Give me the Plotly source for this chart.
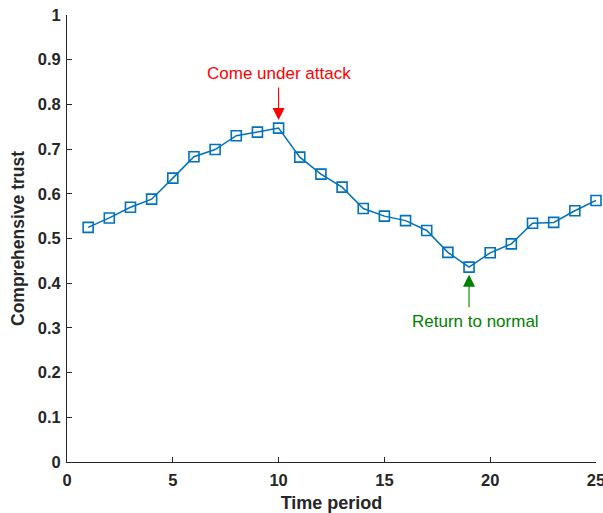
import plotly.graph_objects as go

time_period = list(range(1, 26))
trust = [0.525, 0.546, 0.570, 0.588, 0.635, 0.683, 0.699, 0.730, 0.738, 0.747,
         0.682, 0.644, 0.615, 0.567, 0.550, 0.540, 0.518, 0.469, 0.436, 0.468,
         0.488, 0.534, 0.536, 0.562, 0.585]
x_ticks = [0, 5, 10, 15, 20, 25]
y_ticks = [0, 0.1, 0.2, 0.3, 0.4, 0.5, 0.6, 0.7, 0.8, 0.9, 1]
attack_label = "Come under attack"
normal_label = "Return to normal"
attack_idx = 9
normal_idx = 18

FONT = "Liberation Sans, Arial"

fig = go.Figure()
fig.add_trace(go.Scatter(
    x=time_period, y=trust, mode="lines+markers",
    line=dict(color="#0072BD", width=1.5),
    marker=dict(symbol="square-open", size=10, color="#0072BD", line=dict(width=1.6)),
    showlegend=False, cliponaxis=False,
))

axis_common = dict(
    showline=True, linecolor="#262626", linewidth=1,
    ticks="inside", ticklen=5, tickcolor="#262626",
    showgrid=False, zeroline=False, mirror=False, automargin=False,
    ticklabeloverflow="allow",
    tickfont=dict(family=FONT, size=16.5, color="#262626", weight="bold"),
)

fig.update_xaxes(range=[0, 25], tickvals=x_ticks, ticktext=[str(v) for v in x_ticks],
                 ticklabelstandoff=3,
                 title=dict(text="<b>Time period</b>", standoff=10,
                            font=dict(family=FONT, size=18, color="#262626")),
                 **axis_common)
fig.update_yaxes(range=[0, 1], tickvals=y_ticks, ticktext=[("%g" % v) for v in y_ticks],
                 ticklabelstandoff=2,
                 title=dict(text="<b>Comprehensive trust</b>", standoff=8,
                            font=dict(family=FONT, size=17.5, color="#262626")),
                 **axis_common)

# arrows
fig.add_annotation(x=time_period[attack_idx], y=trust[attack_idx] + 0.018, xref="x", yref="y",
                   ax=0, ay=-34, showarrow=True, arrowhead=2, arrowsize=2.2, arrowwidth=1.1,
                   arrowcolor="#FF0000", text="")
fig.add_annotation(x=time_period[attack_idx], y=trust[attack_idx] + 0.097, xref="x", yref="y",
                   yanchor="bottom", showarrow=False, text=attack_label,
                   font=dict(family=FONT, size=17, color="#FF0000"))
fig.add_annotation(x=time_period[normal_idx], y=trust[normal_idx] - 0.017, xref="x", yref="y",
                   ax=0, ay=34, showarrow=True, arrowhead=2, arrowsize=2.2, arrowwidth=1.1,
                   arrowcolor="#008000", text="")
fig.add_annotation(x=time_period[normal_idx] + 0.3, y=trust[normal_idx] - 0.095, xref="x", yref="y",
                   yanchor="top", showarrow=False, text=normal_label,
                   font=dict(family=FONT, size=17, color="#008000"))

fig.update_layout(
    width=603, height=513,
    margin=dict(l=67, r=7, t=15, b=51, autoexpand=False),
    paper_bgcolor="white", plot_bgcolor="white",
    font=dict(family=FONT),
)

fig.write_html("out.html")
